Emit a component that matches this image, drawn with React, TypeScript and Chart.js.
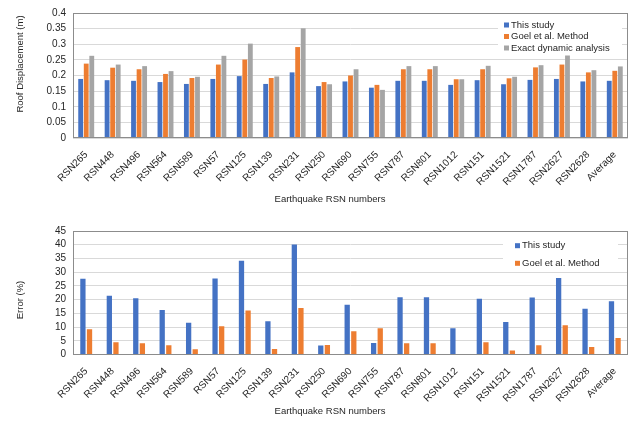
import React, { useEffect, useRef } from 'react';
import { Chart, registerables } from 'chart.js';
Chart.register(...registerables);

const categories = ['RSN265','RSN448','RSN496','RSN564','RSN589','RSN57','RSN125','RSN139','RSN231','RSN250','RSN690','RSN755','RSN787','RSN801','RSN1012','RSN151','RSN1521','RSN1787','RSN2627','RSN2628','Average'];

const dispThisStudy = [0.189,0.185,0.183,0.179,0.173,0.189,0.198,0.173,0.210,0.166,0.181,0.161,0.183,0.183,0.170,0.185,0.172,0.186,0.189,0.181,0.183];
const dispGoel = [0.238,0.225,0.220,0.205,0.192,0.235,0.251,0.192,0.291,0.179,0.200,0.170,0.220,0.220,0.188,0.220,0.191,0.226,0.235,0.210,0.215];
const dispExact = [0.263,0.235,0.230,0.214,0.196,0.263,0.302,0.197,0.351,0.172,0.220,0.154,0.230,0.230,0.188,0.231,0.196,0.233,0.264,0.217,0.229];

const errThisStudy = [27.6,21.4,20.5,16.2,11.6,27.7,34.2,12.1,40.1,3.3,18.1,4.2,20.9,20.9,9.6,20.3,11.8,20.8,27.9,16.7,19.4];
const errGoel = [9.2,4.5,4.1,3.4,1.9,10.3,16.0,2.0,16.9,3.5,8.5,9.6,4.1,4.1,0,4.5,1.5,3.4,10.7,2.7,6.0];

const seriesLabels = ['This study', 'Goel et al. Method', 'Exact dynamic analysis'];
const colors = ['#4472C4', '#ED7D31', '#A5A5A5'];

const xTitle = 'Earthquake RSN numbers';
const yTitleTop = 'Roof Displacement (m)';
const yTitleBottom = 'Error (%)';

const FONT = '"Liberation Sans", Arial, sans-serif';
const TEXT = '#262626';

type Cfg = {
  height: number;
  padTop: number;
  plotBottom: number;
  yMax: number;
  yStep: number;
  decimals: number;
  yTitle: string;
  yTitlePos: [number, number];
  xTitleY: number;
  legend: { boxX: number; boxY: number; boxW: number; boxH: number; markerX: number; textX: number; rows: number[] };
  catPct: number;
  barPct: number;
  datasets: { label: string; data: number[]; color: string }[];
};

function makeChart(canvas: HTMLCanvasElement, cfg: Cfg) {
  const deco = {
    id: 'deco',
    afterDatasetsDraw(chart: any) {
      const { ctx, chartArea } = chart;
      ctx.save();
      ctx.strokeStyle = '#8c8c8c';
      ctx.lineWidth = 1;
      const l = Math.round(chartArea.left) + 0.5;
      const t = Math.round(chartArea.top) + 0.5;
      const r = Math.round(chartArea.right) - 0.5;
      const b = Math.round(chartArea.bottom) - 0.5;
      ctx.strokeRect(l, t, r - l, b - t);
      const lg = cfg.legend;
      ctx.fillStyle = '#ffffff';
      ctx.fillRect(lg.boxX, lg.boxY, lg.boxW, lg.boxH);
      ctx.font = `9.5px ${FONT}`;
      ctx.textBaseline = 'middle';
      ctx.textAlign = 'left';
      chart.data.datasets.forEach((ds: any, i: number) => {
        const y = lg.rows[i];
        ctx.fillStyle = ds.backgroundColor;
        ctx.fillRect(lg.markerX, y - 2.5, 5, 5);
        ctx.fillStyle = TEXT;
        ctx.fillText(ds.label, lg.textX, y);
      });
      ctx.font = `9.5px ${FONT}`;
      ctx.fillStyle = TEXT;
      ctx.textAlign = 'center';
      ctx.textBaseline = 'middle';
      ctx.fillText(xTitle, 330, cfg.xTitleY);
      ctx.translate(cfg.yTitlePos[0], cfg.yTitlePos[1]);
      ctx.rotate(-Math.PI / 2);
      ctx.fillText(cfg.yTitle, 0, 0);
      ctx.restore();
    },
  };

  return new Chart(canvas, {
    type: 'bar',
    data: {
      labels: categories,
      datasets: cfg.datasets.map((d) => ({
        label: d.label,
        data: d.data,
        backgroundColor: d.color,
        borderWidth: 0,
        categoryPercentage: cfg.catPct,
        barPercentage: cfg.barPct,
      })),
    },
    options: {
      responsive: false,
      animation: false,
      devicePixelRatio: 1,
      layout: { padding: { top: cfg.padTop, right: 5, left: 0, bottom: 0 } },
      plugins: { legend: { display: false }, tooltip: { enabled: false } },
      scales: {
        x: {
          grid: { display: false },
          border: { display: false },
          ticks: {
            autoSkip: false,
            maxRotation: 45,
            minRotation: 45,
            color: TEXT,
            font: { size: 10, family: FONT },
            padding: 3,
          },
          afterFit: (s: any) => { s.height = cfg.height - cfg.plotBottom; },
        },
        y: {
          min: 0,
          max: cfg.yMax,
          grid: { color: '#d9d9d9', drawTicks: false },
          border: { display: false },
          ticks: {
            stepSize: cfg.yStep,
            autoSkip: false,
            maxTicksLimit: 20,
            padding: 7,
            color: TEXT,
            font: { size: 10, family: FONT },
            callback: (v: any) => String(+Number(v).toFixed(cfg.decimals)),
          },
          afterFit: (s: any) => { s.width = 73; },
        },
      },
    },
    plugins: [deco],
  } as any);
}

export default function App() {
  const topRef = useRef<HTMLCanvasElement>(null);
  const botRef = useRef<HTMLCanvasElement>(null);

  useEffect(() => {
    const c1 = makeChart(topRef.current!, {
      height: 215,
      padTop: 13,
      plotBottom: 138,
      yMax: 0.4,
      yStep: 0.05,
      decimals: 2,
      yTitle: yTitleTop,
      yTitlePos: [20, 64],
      xTitleY: 199,
      legend: { boxX: 498, boxY: 17, boxW: 124, boxH: 37, markerX: 504, textX: 511, rows: [25, 36.5, 48] },
      catPct: 0.63,
      barPct: 0.87,
      datasets: [
        { label: seriesLabels[0], data: dispThisStudy, color: colors[0] },
        { label: seriesLabels[1], data: dispGoel, color: colors[1] },
        { label: seriesLabels[2], data: dispExact, color: colors[2] },
      ],
    });
    const c2 = makeChart(botRef.current!, {
      height: 206,
      padTop: 16,
      plotBottom: 139.5,
      yMax: 45,
      yStep: 5,
      decimals: 0,
      yTitle: yTitleBottom,
      yTitlePos: [20, 85],
      xTitleY: 196,
      legend: { boxX: 503, boxY: 21, boxW: 115, boxH: 36, markerX: 515, textX: 522, rows: [30.7, 48.3] },
      catPct: 0.5,
      barPct: 0.8,
      datasets: [
        { label: seriesLabels[0], data: errThisStudy, color: colors[0] },
        { label: seriesLabels[1], data: errGoel, color: colors[1] },
      ],
    });
    return () => { c1.destroy(); c2.destroy(); };
  }, []);

  return (
    <div style={{ position: 'absolute', left: 0, top: 0, width: 633, height: 421, background: '#fff' }}>
      <canvas ref={topRef} width={633} height={215} style={{ display: 'block', width: 633, height: 215 }} />
      <canvas ref={botRef} width={633} height={206} style={{ display: 'block', width: 633, height: 206 }} />
    </div>
  );
}
